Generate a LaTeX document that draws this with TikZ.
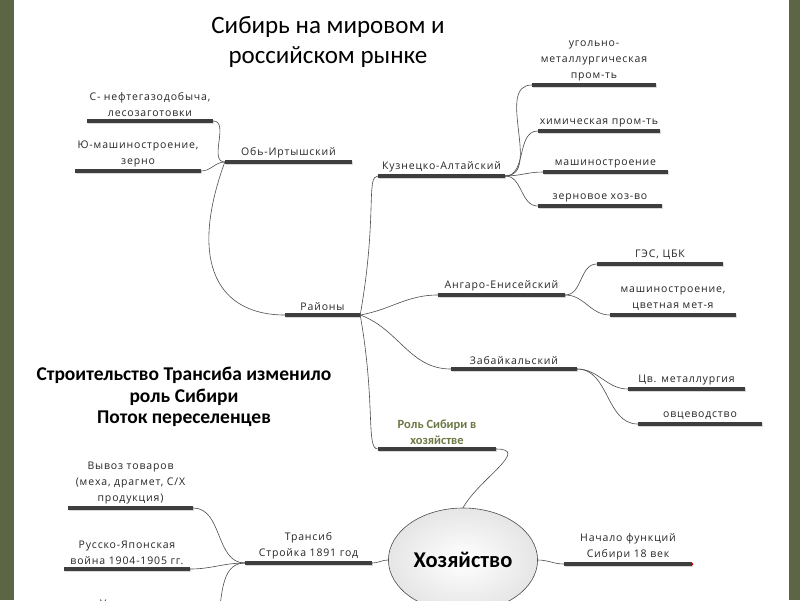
\documentclass[tikz,border=0pt]{standalone}
\usepackage{fontspec}
\setmainfont{Carlito}
\newfontfamily\lblfont[LetterSpace=8]{Open Sans}
\usetikzlibrary{positioning,shapes.geometric,shadows}
\definecolor{framecol}{RGB}{92,102,68}
\definecolor{barcol}{RGB}{62,62,62}
\definecolor{olivetxt}{RGB}{107,120,68}

\begin{document}
\begin{tikzpicture}[x=1pt,y=-1pt,
    bar/.style={fill=barcol, draw=none, minimum height=4pt, inner sep=0pt,
      drop shadow={shadow xshift=0.8pt, shadow yshift=-0.8pt, opacity=0.3}},
    lbl/.style={font=\lblfont\fontsize{10.5}{16}\selectfont, align=center, inner sep=1pt, text=black!85},
    link/.style={draw=black!70, line width=0.6pt}]
  \useasboundingbox (0,0) rectangle (800,600);
  \clip (0,0) rectangle (800,600);
  \fill[framecol] (0,0) rectangle (800,600);
  \fill[white] (14,0) rectangle (789,600);

  % titles
  \node[font=\fontsize{25}{30}\selectfont, align=center] (title) at (328,42) {Сибирь на мировом и\\российском рынке};
  \node[font=\bfseries\fontsize{19.5}{21.5}\selectfont, align=center] (note) at (184,397) {Строительство Трансиба изменило\\роль Сибири\\Поток переселенцев};

  % bars
  \node[bar, minimum width=126pt] (sneft) at (150,121) {};
  \node[bar, minimum width=126pt] (yu) at (138,171) {};
  \node[bar, minimum width=127pt] (obi) at (288.5,162) {};
  \node[bar, minimum width=75pt] (raion) at (322.5,315) {};
  \node[bar, minimum width=127pt] (kuz) at (441.5,176) {};
  \node[bar, minimum width=124pt] (ugol) at (594,85) {};
  \node[bar, minimum width=122pt] (khim) at (599,131) {};
  \node[bar, minimum width=125pt] (mash) at (605.5,172) {};
  \node[bar, minimum width=124pt] (zern) at (600,206) {};
  \node[bar, minimum width=127pt] (angaro) at (501.5,295) {};
  \node[bar, minimum width=126pt] (ges) at (660,264) {};
  \node[bar, minimum width=126pt] (mash2) at (673,315) {};
  \node[bar, minimum width=126pt] (zab) at (514,369) {};
  \node[bar, minimum width=117pt] (cvmet) at (686.5,389) {};
  \node[bar, minimum width=124pt] (ovc) at (700,424) {};
  \node[bar, minimum width=118pt] (rol) at (437,449) {};
  \node[bar, minimum width=128pt] (nach) at (628,564) {};
  \node[bar, minimum width=127pt] (trans) at (308.5,563) {};
  \node[bar, minimum width=125pt] (vyvoz) at (130.5,508) {};
  \node[bar, minimum width=126pt] (russo) at (127,569) {};
  \node[bar, minimum width=126pt] (ukh) at (132,649) {};

  % labels
  \node[lbl, above=1pt of sneft] (sneft-t) {С- нефтегазодобыча,\\лесозаготовки};
  \node[lbl, above=1pt of yu] (yu-t) {Ю-машиностроение,\\зерно};
  \node[lbl, above=1pt of obi] (obi-t) {Обь-Иртышский};
  \node[lbl, above=1pt of raion] (raion-t) {Районы};
  \node[lbl, above=1pt of kuz] (kuz-t) {Кузнецко-Алтайский};
  \node[lbl, above=1pt of ugol] (ugol-t) {угольно-\\металлургическая\\пром-ть};
  \node[lbl, above=1pt of khim] (khim-t) {химическая пром-ть};
  \node[lbl, above=1pt of mash] (mash-t) {машиностроение};
  \node[lbl, above=1pt of zern] (zern-t) {зерновое хоз-во};
  \node[lbl, above=1pt of angaro] (angaro-t) {Ангаро-Енисейский};
  \node[lbl, above=1pt of ges] (ges-t) {ГЭС, ЦБК};
  \node[lbl, above=1pt of mash2] (mash2-t) {машиностроение,\\цветная мет-я};
  \node[lbl, above=1pt of zab] (zab-t) {Забайкальский};
  \node[lbl, above=1pt of cvmet] (cvmet-t) {Цв. металлургия};
  \node[lbl, above=1pt of ovc] (ovc-t) {овцеводство};
  \node[lbl, font=\bfseries\fontsize{12.5}{16.5}\selectfont, text=olivetxt, above=1pt of rol] (rol-t) {Роль Сибири в\\хозяйстве};
  \node[lbl, above=1pt of nach] (nach-t) {Начало функций\\Сибири 18 век};
  \node[lbl, above=1pt of trans] (trans-t) {Трансиб\\Стройка 1891 год};
  \node[lbl, above=1pt of vyvoz] (vyvoz-t) {Вывоз товаров\\(меха, драгмет, С/Х\\продукция)};
  \node[lbl, above=1pt of russo] (russo-t) {Русско-Японская\\война 1904-1905 гг.};
  \node[lbl, above=1pt of ukh] (ukh-t) {Ухудшение\\\strut\\\strut};

  % centre
  \node[ellipse, draw=black!70, line width=0.6pt, inner color=white, outer color=black!10,
    minimum width=132pt, minimum height=104pt, font=\bfseries\fontsize{22.5}{26}\selectfont] (khoz) at (463,560) {Хозяйство};
  \fill[red!80!black] (nach.east) circle (1.3pt);

  % links
  \draw[link] (sneft.east) to[out=0, in=180] (obi.west);
  \draw[link] (yu.east) to[out=0, in=180] (obi.west);
  \draw[link] (obi.west) to[out=250, in=180, out distance=110pt, in distance=65pt] (raion.west);
  \draw[link] (raion.east) to[out=80, in=180, out distance=100pt, in distance=12pt] (kuz.west);
  \draw[link] (raion.east) to[out=10, in=180] (angaro.west);
  \draw[link] (raion.east) to[out=-20, in=180] (zab.west);
  \draw[link] (raion.east) to[out=-80, in=180, out distance=90pt, in distance=12pt] (rol.west);
  \draw[link] (kuz.east) to[out=0, in=180] (ugol.west);
  \draw[link] (kuz.east) to[out=0, in=180] (khim.west);
  \draw[link] (kuz.east) to[out=0, in=180] (mash.west);
  \draw[link] (kuz.east) to[out=0, in=180] (zern.west);
  \draw[link] (angaro.east) to[out=0, in=180] (ges.west);
  \draw[link] (angaro.east) to[out=0, in=180] (mash2.west);
  \draw[link] (zab.east) to[out=0, in=180] (cvmet.west);
  \draw[link] (zab.east) to[out=0, in=180] (ovc.west);
  \draw[link] (rol.east) to[out=0, in=60, looseness=1.3] (khoz.north);
  \draw[link] (khoz.east) to[out=0, in=180] (nach.west);
  \draw[link] (trans.east) to[out=0, in=180] (khoz.west);
  \draw[link] (trans.west) to[out=180, in=0] (vyvoz.east);
  \draw[link] (trans.west) to[out=180, in=0] (russo.east);
  \draw[link] (trans.west) to[out=180, in=0] (ukh.east);
\end{tikzpicture}
\end{document}
